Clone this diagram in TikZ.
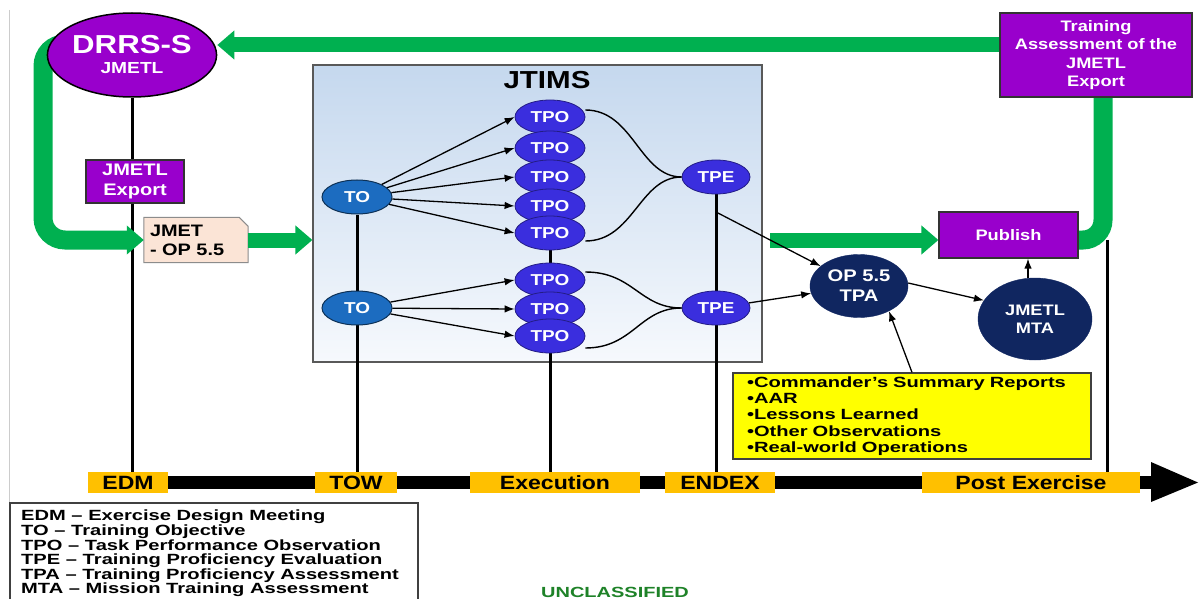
\documentclass[tikz,border=0pt]{standalone}
\usepackage{fontspec}
\setmainfont{Liberation Sans}[FakeStretch=1.2]
\newfontfamily\wfont{Liberation Sans}[FakeStretch=1.36]
\usetikzlibrary{shapes.geometric,arrows.meta}
\definecolor{purp}{RGB}{153,0,204}
\definecolor{grn}{RGB}{0,176,80}
\definecolor{navy}{RGB}{16,38,96}
\definecolor{tpob}{RGB}{58,46,222}
\definecolor{tob}{RGB}{28,108,192}
\definecolor{orng}{RGB}{255,192,0}
\definecolor{peach}{RGB}{251,228,214}
\definecolor{jtop}{RGB}{197,216,238}
\definecolor{jbot}{RGB}{246,249,253}
\definecolor{ylw}{RGB}{255,255,0}
\definecolor{ugreen}{RGB}{30,130,40}
\pgfdeclarelayer{back}\pgfdeclarelayer{lines}
\pgfsetlayers{back,lines,main}
\newcommand\fsz[2]{\fontsize{#1}{#2}\selectfont\bfseries}
\lineskiplimit=-20pt
\tikzset{
  purpbox/.style={draw=black!80, line width=1.2pt, fill=purp, text=white, inner sep=0pt, align=center},
  tposhape/.style={ellipse, fill=tpob, draw=tpob!60!black, line width=0.8pt, text=white,
     minimum width=70pt, minimum height=34pt, inner sep=0pt, font=\fsz{15.8}{18}},
  toshape/.style={tposhape, fill=tob, draw=tob!45!black, line width=1pt},
  navyell/.style={ellipse, fill=navy, draw=navy, text=white, inner sep=0pt, align=center},
  phase/.style={fill=orng, minimum height=21pt, inner sep=0pt, font=\fsz{19.2}{20}, text=black},
  vline/.style={line width=3pt, black},
  arr/.style={line width=1.3pt, -{Latex[length=10pt,width=7.5pt]}},
  brace/.style={line width=1.4pt},
  garrow/.style={draw=grn, line width=15pt, -{Triangle[length=17pt,width=28pt]}}
}
\begin{document}
\begin{tikzpicture}[x=1pt,y=-1pt]
\useasboundingbox (0,0) rectangle (1200,599);
\begin{pgfonlayer}{back}
\fill[white] (0,0) rectangle (1200,599);
\node[draw=black!65, line width=1.2pt, top color=jtop, bottom color=jbot,
  minimum width=449pt, minimum height=297pt, inner sep=0pt] (jtims) at (537.5,213.5) {};
\end{pgfonlayer}

% nodes
\node[ellipse, draw=black, line width=1.5pt, fill=purp, text=white, minimum width=150pt,
  minimum height=84pt, inner sep=0pt, align=center, font=\fsz{16}{20}] (drrs) at (132,55)
  {{\fontsize{26}{26}\selectfont DRRS-S}\\JMETL};
\node[purpbox, minimum width=98pt, minimum height=43pt, font=\fsz{16.7}{20}] (jexp) at (135,181.5) {JMETL\\Export};
\node[minimum width=104pt, minimum height=45pt, inner xsep=6pt, inner ysep=0pt, text width=92pt,
  align=left, font=\fsz{16.6}{19}] (jmet) at (196,240) {JMET\\- OP 5.5};
\node[font=\fsz{24.6}{26}] (jtitle) at (547,80) {JTIMS};

\node[tposhape] (tpo1) at (550,117) {TPO};
\node[tposhape] (tpo2) at (550,148) {TPO};
\node[tposhape] (tpo3) at (550,177) {TPO};
\node[tposhape] (tpo4) at (550,206) {TPO};
\node[tposhape] (tpo5) at (550,233) {TPO};
\node[tposhape] (tpo6) at (550,280) {TPO};
\node[tposhape] (tpo7) at (550,309) {TPO};
\node[tposhape] (tpo8) at (550,336) {TPO};
\node[toshape] (to1) at (357,197) {TO};
\node[toshape] (to2) at (357,308) {TO};
\node[tposhape, minimum width=68pt] (tpe1) at (716,177) {TPE};
\node[tposhape, minimum width=68pt] (tpe2) at (716,308) {TPE};

\node[navyell, minimum width=98pt, minimum height=63pt, font=\fsz{16.8}{20}] (tpa) at (859,286) {OP 5.5\\TPA};
\node[navyell, minimum width=114pt, minimum height=82pt, font=\fsz{15.2}{18}] (mta) at (1035,319) {JMETL\\MTA};
\node[purpbox, minimum width=139pt, minimum height=46pt, font=\fsz{15.2}{18}] (pub) at (1008.5,235) {Publish};
\node[purpbox, minimum width=192pt, minimum height=84pt, font=\fsz{15.2}{18.3}] (tae) at (1096,55)
  {Training\\Assessment of the\\JMETL\\Export};
\node[fill=ylw, draw=black!75, line width=1.2pt, minimum width=358pt, minimum height=86pt,
  inner xsep=14pt, inner ysep=0pt, text width=330pt, align=left, font=\wfont\fsz{14.8}{16.25}] (ybox) at (912,416)
  {•Commander’s Summary Reports\\•AAR\\•Lessons Learned\\•Other Observations\\•Real-world Operations};

\node[phase, minimum width=80pt] (edm) at (128,482.5) {EDM};
\node[phase, minimum width=82pt] (tow) at (356,482.5) {TOW};
\node[phase, minimum width=170pt] (exe) at (555,482.5) {Execution};
\node[phase, minimum width=110pt] (endex) at (720,482.5) {ENDEX};
\node[phase, minimum width=218pt] (post) at (1031,482.5) {Post Exercise};

\node[anchor=north west, inner sep=0pt, align=left, font=\wfont\fsz{14.8}{14.6}] (legend) at (21,510)
  {EDM – Exercise Design Meeting\\TO – Training Objective\\TPO – Task Performance Observation\\TPE – Training Proficiency Evaluation\\TPA – Training Proficiency Assessment\\MTA – Mission Training Assessment};
\node[font=\wfont\fsz{14.7}{16}, text=ugreen] (uncl) at (615,592) {UNCLASSIFIED};

% background lines and green arrows
\begin{pgfonlayer}{lines}
\draw[black!20, line width=1pt] (9,10) -- (9,503);
\draw[black!75, line width=1.5pt] (10,599) -- (10,503) -- (418,503) -- (418,599);
\fill[black] (88,476) rectangle (1152,489);
\fill[black] (1151,462) -- (1198,482.5) -- (1151,502) -- cycle;
\draw[vline] (drrs) -- (drrs |- edm.north);
\draw[vline] (to1) -- (to1 |- tow.north);
\draw[vline] (tpo5) -- (tpo5 |- exe.north);
\draw[vline] (tpe1) -- (tpe1 |- endex.north);
\coordinate (pe) at (1107,240);
\draw[vline] (pe) -- (pe |- post.north);
\filldraw[fill=peach, draw=black!45, line width=1pt] (jmet.south west) -- (jmet.north west)
  -- ([xshift=-9pt]jmet.north east) -- ([yshift=-9pt]jmet.north east) -- (jmet.south east) -- cycle;
\draw[garrow] (tae.west |- 0,45) -- (drrs.east |- 0,45);
\draw[garrow, line width=19pt, rounded corners=22pt] (70,44) -- (43,44) -- (43,240) -- (jmet.west);
\draw[garrow] (jmet.east) -- (jmet.east -| jtims.west);
\coordinate (gs) at (770,240);
\draw[garrow] (gs) -- (gs -| pub.west);
\draw[draw=grn, line width=19pt, rounded corners=20pt] (pub.east |- 0,240) -- (1103,240) -- (tae.south -| 1103,0);
\end{pgfonlayer}

% connectors
\foreach \i in {1,...,5} \draw[arr] (to1) -- (tpo\i.west);
\foreach \i in {6,7,8} \draw[arr] (to2) -- (tpo\i.west);
\draw[brace] ([yshift=7pt]tpo1.east) .. controls +(48,0) and +(-42,0) .. (tpe1.west);
\draw[brace] ([yshift=-8pt]tpo5.east) .. controls +(48,0) and +(-42,0) .. (tpe1.west);
\draw[brace] ([yshift=8pt]tpo6.east) .. controls +(48,0) and +(-42,0) .. (tpe2.west);
\draw[brace] ([yshift=-12pt]tpo8.east) .. controls +(48,0) and +(-42,0) .. (tpe2.west);
\coordinate (t1) at (716,212);
\draw[arr] (t1) -- (tpa);
\draw[arr] (tpe2) -- (tpa);
\draw[arr] ([yshift=3pt]tpa.east) -- (mta.160);
\draw[arr] ([xshift=-7pt]mta.north) -- ([xshift=-7pt]mta.north |- pub.south);
\draw[arr] (ybox.north) -- (tpa.-40);
\end{tikzpicture}
\end{document}
